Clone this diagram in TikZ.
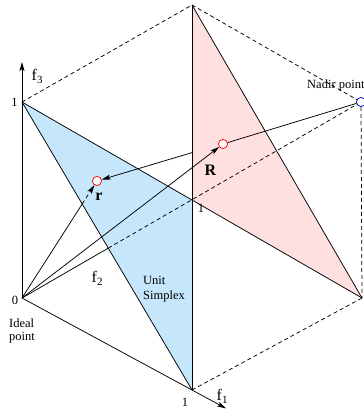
\documentclass[tikz,border=0pt]{standalone}
\usepackage{fontspec}
\setmainfont{Liberation Serif}
\usetikzlibrary{arrows.meta}
\definecolor{simplexblue}{HTML}{C6E6FB}
\definecolor{planepink}{HTML}{FFE0E0}
\begin{document}
\begin{tikzpicture}[x=1pt,y=-1pt,
  edge/.style={line width=0.75pt},
  hid/.style={line width=0.75pt, dash pattern=on 4pt off 3pt},
  tip/.style={-{Stealth[length=9pt,width=5pt,inset=2pt]}},
  small/.style={font=\fontsize{12.5}{13}\selectfont, inner sep=0pt},
  big/.style={font=\fontsize{16}{16}\selectfont, inner sep=0pt},
  ptcircle/.style={circle, draw, fill=white, line width=0.6pt, minimum size=9pt, inner sep=0pt}
]
\useasboundingbox (0,0) rectangle (364,418);
\coordinate (O) at (22,298);
\coordinate (T3) at (22,62);
\coordinate (E3) at (22,102);
\coordinate (E1) at (192,390);
\coordinate (T1) at (226,408.4);
\coordinate (M) at (192,200);
\coordinate (P) at (192,5);
\coordinate (Q) at (362,298);
\coordinate (X1) at (82.2,204);
\coordinate (X2) at (108.3,248.1);
\coordinate (X3) at (192,152.6);

% planes
\fill[simplexblue] (E3) -- (E1) -- (M) -- cycle;
\fill[planepink] (P) -- (Q) -- (M) -- cycle;

% point markers (positions)
\node[ptcircle, draw=red] (r) at (97,181) {};
\node[ptcircle, draw=red] (R) at (223,144) {};
\node[ptcircle, draw=blue!80!black] (N) at (361,102) {};

% hidden cube edges
\draw[hid] (E3) -- (P);
\draw[hid] (P) -- (N);
\draw[hid] (N) -- (Q);
\draw[hid] (E1) -- (Q);
\draw[hid] (X2) -- (N);
\draw[hid, tip] (X1) -- (r);

% triangle edges
\draw[edge] (E3) -- (E1);
\draw[edge] (E3) -- (Q);
\draw[edge] (E1) -- (P);
\draw[edge] (P) -- (Q);

% axes
\draw[edge, tip] (O) -- (T3);
\draw[edge, tip] (O) -- (T1);

% rays
\draw[edge] (O) -- (X1);
\draw[edge] (O) -- (X2);
\draw[edge, tip] (O) -- (R);
\draw[edge] (N) -- (R);
\draw[edge, tip] (X3) -- (r);

% redraw markers on top
\node[ptcircle, draw=red] at (r) {};
\node[ptcircle, draw=red] at (R) {};
\node[ptcircle, draw=blue!80!black] at (N) {};

% labels
\node[big, anchor=base west] (lf3) at (31.5,80) {f\raisebox{-3.5pt}{\fontsize{11}{11}\selectfont 3}};
\node[big, anchor=base west] (lf2) at (91.5,282) {f\raisebox{-3pt}{\fontsize{11}{11}\selectfont 2}};
\node[big, anchor=base west] (lf1) at (216.5,400) {f\raisebox{-3pt}{\fontsize{11}{11}\selectfont 1}};
\node[small] (one3) at (14.5,102) {1};
\node[small] (zero) at (15,300) {0};
\node[small] (one2) at (201,208.5) {1};
\node[small] (one1) at (185,402) {1};
\node[small, anchor=base west] (ideal) at (9,327) {Ideal};
\node[small, anchor=base west] (idealpt) at (9,340.5) {point};
\node[small, anchor=base west] (unit) at (143,284) {Unit};
\node[small, anchor=base west] (simplex) at (143,299) {Simplex};
\node[small, anchor=base west] (nadir) at (307,88) {Nadir point};
\node[big] (lr) at (99,197) {\bfseries r};
\node[big] (lR) at (210.5,170.5) {\bfseries R};
\end{tikzpicture}
\end{document}
